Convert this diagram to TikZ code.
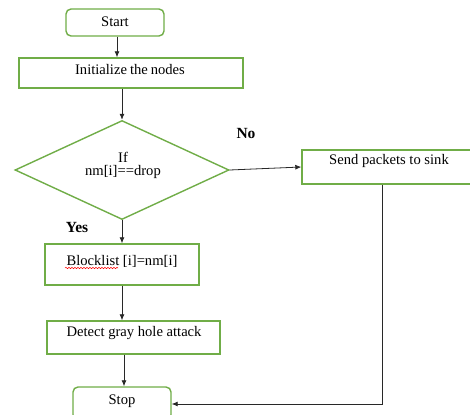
\documentclass[tikz,border=0pt]{standalone}
\usepackage{fontspec}
\setmainfont{Liberation Serif}
\usetikzlibrary{arrows.meta,shapes.geometric,decorations.pathmorphing}
\definecolor{boxgreen}{RGB}{112,173,71}
\definecolor{linegray}{RGB}{40,40,40}
\tikzset{
  stepbox/.style={draw=boxgreen,line width=1.4pt,fill=white,inner sep=0pt},
  roundbox/.style={stepbox,rounded corners=5pt},
  txt/.style={inner sep=0pt,font=\fontsize{14.6}{16}\selectfont,text=black},
  lbl/.style={inner sep=0pt,font=\fontsize{15.5}{17}\selectfont\bfseries,text=black},
  flow/.style={draw=linegray,line width=0.8pt,-{Latex[length=6pt,width=5pt]}},
}
\begin{document}
\begin{tikzpicture}[x=1pt,y=-1pt]
\useasboundingbox (0,0) rectangle (470,414);

% boxes
\node[roundbox,minimum width=98pt,minimum height=27pt] (start) at (115,22.5) {};
\node[stepbox,minimum width=224pt,minimum height=30pt] (init) at (131,73) {};
\node[stepbox,diamond,minimum width=214pt,minimum height=99pt] (cond) at (122,170) {};
\node[stepbox,minimum width=170pt,minimum height=34pt] (send) at (387,167) {};
\node[stepbox,minimum width=154pt,minimum height=41pt] (block) at (122,264.5) {};
\node[stepbox,minimum width=173pt,minimum height=33pt] (detect) at (133.5,337.5) {};
\node[roundbox,minimum width=98pt,minimum height=33pt] (stop) at (122,403.5) {};

% texts
\node[txt] (tstart) at (115,22) {Start};
\node[txt] (tinit) at (130,70) {Initialize\hspace{3pt}the\hspace{3pt}nodes};
\node[txt] (tif) at (123,157) {If};
\node[txt] (tcond) at (123,172) {nm[i]==drop};
\node[txt] (tsend) at (389,161) {Send packets to sink};
\node[txt] (tblock) at (122,261) {Blocklist [i]=nm[i]};
\node[txt] (tdetect) at (134,333) {Detect gray hole attack};
\node[txt] (tstop) at (122,401) {Stop};
\node[lbl] (no) at (246,134) {No};
\node[lbl] (yes) at (77,227) {Yes};

% spelling squiggle under the first word
\coordinate (sqa) at (65,268);
\coordinate (sqb) at (118,268);
\draw[red,line width=0.5pt,decorate,decoration={snake,amplitude=0.7pt,segment length=3pt}] (sqa) -- (sqb);

% connectors
\draw[flow] (start.south -| 117,0) -- (init.north -| 117,0);
\draw[flow] (init.south -| cond.north) -- (cond.north);
\draw[flow] (cond.east) -- (send.west);
\draw[flow] (cond.south) -- (block.north -| cond.south);
\draw[flow] (block.south) -- (detect.north -| block.south);
\draw[flow] (detect.south -| 124,0) -- (stop.north -| 124,0);
\coordinate (corner) at (382,404);
\draw[flow] (send.south -| corner) -- (corner) -- (stop.east |- corner);
\end{tikzpicture}
\end{document}
